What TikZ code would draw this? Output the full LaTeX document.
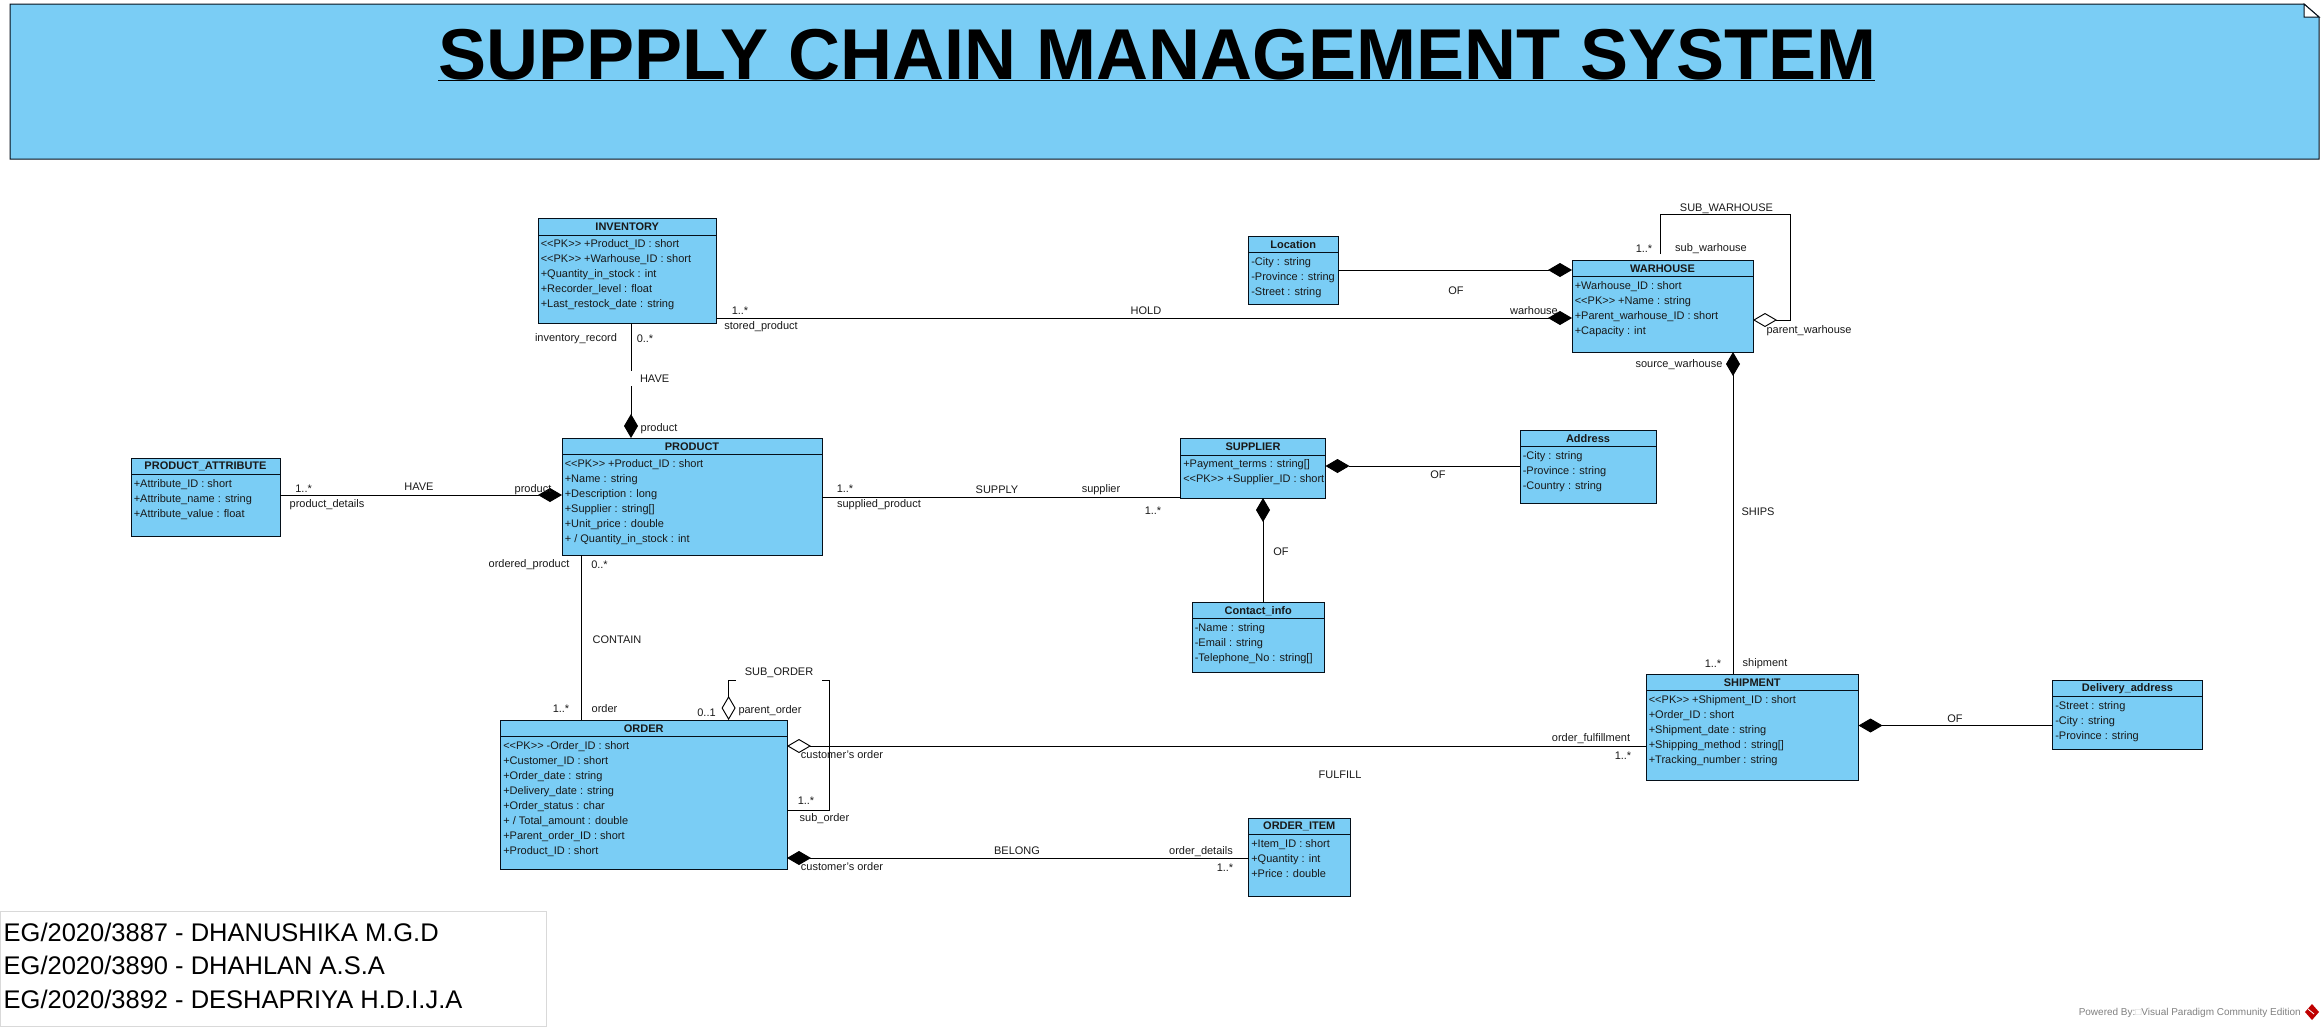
\documentclass[tikz,border=0pt]{standalone}
\usepackage{fontspec}
\setmainfont{Liberation Sans}
\usetikzlibrary{arrows.meta,calc}
\definecolor{umlblue}{RGB}{122,205,245}
\definecolor{inkline}{RGB}{5,15,25}
\tikzset{
  classbox/.style={draw=inkline,fill=umlblue,line width=1pt,outer sep=0pt,inner sep=0pt,anchor=north west},
  headrule/.style={draw=inkline,line width=1pt},
  classtitle/.style={font=\fontsize{11}{13}\selectfont\bfseries,inner sep=0pt,text=black!90},
  attr/.style={font=\fontsize{11}{13}\selectfont,inner sep=0pt,anchor=west,text height=8pt,text depth=2.5pt,text=black!90},
  lbl/.style={font=\fontsize{11}{13}\selectfont,inner sep=0pt,text=black!90,yshift=-0.7pt},
  conn/.style={draw=black,line width=0.95pt},
  comp/.style={-{Diamond[length=24pt,width=14pt,fill=black]}},
  agg/.style={-{Diamond[length=24pt,width=14pt,fill=white]}},
}
% name, x1, y1, x2, y2, header rule y, title, first row y, rows
\newcommand{\classbox}[9]{%
  \pgfmathsetmacro{\cw}{#4-#2}%
  \pgfmathsetmacro{\ch}{#5-#3}%
  \pgfmathsetmacro{\cmx}{(#2+#4)/2}%
  \pgfmathsetmacro{\cmy}{(#3+#6)/2+0.5}%
  \node[classbox,minimum width=\cw pt,minimum height=\ch pt] (#1) at (#2,#3) {};
  \draw[headrule] (#1.west |- 0,#6) -- (#1.east |- 0,#6);
  \node[classtitle] (#1t) at (\cmx,\cmy) {#7};
  \foreach \rowtext [count=\rowi] in {#9} {
    \pgfmathsetmacro{\rowy}{#8+0.5+15*(\rowi-1)}
    \node[attr] (#1r\rowi) at (#2+2.6,\rowy) {\rowtext};
  }
}
\newcommand{\lab}[4]{\node[lbl] (#1) at (#2,#3) {#4};}
\newcommand{\pk}{<{}<PK>{}>}
\begin{document}
\begin{tikzpicture}[x=1pt,y=-1pt]
\useasboundingbox (0,0) rectangle (2324,1029);

% title note
\draw[fill=umlblue,draw=inkline,line width=1pt] (10,4) -- (2304,4) -- (2319,17) -- (2319,159) -- (10,159) -- cycle;
\draw[fill=white,draw=inkline,line width=1pt] (2304,4) -- (2319,17) -- (2304,17) -- cycle;
\node[font=\fontsize{72}{80}\selectfont\bfseries,inner sep=0pt,anchor=base] (title) at (1157.5,79) {SUPPPLY CHAIN MANAGEMENT SYSTEM};
\draw[line width=1.2pt] (438,80.5) -- (1875,80.5);

% classes
\classbox{inv}{538}{218}{716.5}{323}{235}{INVENTORY}{244}{{\pk{} +Product\_ID : short},{\pk{} +Warhouse\_ID : short},{+Quantity\_in\_stock : int},{+Recorder\_level : float},{+Last\_restock\_date : string}}
\classbox{pa}{131}{458}{280}{536}{474}{PRODUCT\_ATTRIBUTE}{484}{{+Attribute\_ID : short},{+Attribute\_name : string},{+Attribute\_value : float}}
\classbox{prod}{562}{438}{822}{555}{454}{PRODUCT}{464}{{\pk{} +Product\_ID : short},{+Name : string},{+Description : long},{+Supplier : string[]},{+Unit\_price : double},{+ / Quantity\_in\_stock : int}}
\classbox{wh}{1572}{260}{1753}{352}{276}{WARHOUSE}{286}{{+Warhouse\_ID : short},{\pk{} +Name : string},{+Parent\_warhouse\_ID : short},{+Capacity : int}}
\classbox{loc}{1248.5}{236}{1338}{304}{252.5}{Location}{262}{{-City : string},{-Province : string},{-Street : string}}
\classbox{sup}{1180.5}{438}{1325.5}{498}{455}{SUPPLIER}{464}{{+Payment\_terms : string[]},{\pk{} +Supplier\_ID : short}}
\classbox{addr}{1520}{430}{1656}{503}{446}{Address}{456}{{-City : string},{-Province : string},{-Country : string}}
\classbox{ci}{1192}{602.5}{1324.5}{672}{618}{Contact\_info}{628.5}{{-Name : string},{-Email : string},{-Telephone\_No : string[]}}
\classbox{ship}{1646}{674}{1858.5}{780}{690}{SHIPMENT}{700}{{\pk{} +Shipment\_ID : short},{+Order\_ID : short},{+Shipment\_date : string},{+Shipping\_method : string[]},{+Tracking\_number : string}}
\classbox{del}{2052.5}{680}{2202.5}{749}{696}{Delivery\_address}{706}{{-Street : string},{-City : string},{-Province : string}}
\classbox{ord}{500.5}{720}{787}{869}{736}{ORDER}{746}{{\pk{} -Order\_ID : short},{+Customer\_ID : short},{+Order\_date : string},{+Delivery\_date : string},{+Order\_status : char},{+ / Total\_amount : double},{+Parent\_order\_ID : short},{+Product\_ID : short}}
\classbox{oi}{1248.5}{818}{1350}{896}{834}{ORDER\_ITEM}{844}{{+Item\_ID : short},{+Quantity : int},{+Price : double}}

% connectors
\draw[conn,comp] (pa.east |- 0,495) -- (prod.west |- 0,495);
\draw[conn,comp] (inv.south -| 631,0) -- (prod.north -| 631,0);
\draw[conn,comp] (inv.east |- 0,318) -- (wh.west |- 0,318);
\draw[conn,comp] (loc.east |- 0,270) -- (wh.west |- 0,270);
\coordinate (wls) at (1660.7,254);
\draw[conn,agg] (wls) -- (1660.7,214) -- (1790,214) -- (1790,320) -- (wh.east |- 0,320);
\draw[conn,comp] (ship.north -| 1733,0) -- (wh.south -| 1733,0);
\draw[conn] (prod.east |- 0,497) -- (sup.west |- 0,497);
\draw[conn,comp] (addr.west |- 0,466) -- (sup.east |- 0,466);
\draw[conn,comp] (ci.north -| 1263,0) -- (sup.south -| 1263,0);
\draw[conn] (prod.south -| 581,0) -- (ord.north -| 581,0);
\draw[conn,agg] (ord.east |- 0,810) -- (829,810) -- (829,680) -- (728.6,680) -- (ord.north -| 728.6,0);
\draw[conn,agg] (ship.west |- 0,746) -- (ord.east |- 0,746);
\draw[conn,comp] (oi.west |- 0,858) -- (ord.east |- 0,858);
\draw[conn,comp] (del.west |- 0,725.5) -- (ship.east |- 0,725.5);

% connector labels
\node[lbl,fill=white,minimum width=51pt,minimum height=15pt] (lHaveA) at (654.6,378) {HAVE};
\node[lbl,fill=white,minimum width=86pt,minimum height=20pt] (lSubOrder) at (779,672) {SUB\_ORDER};
\lab{l01}{303.6}{488}{1..*}
\lab{l02}{327}{504}{product\_details}
\lab{l03}{419}{486}{HAVE}
\lab{l04}{533}{488.5}{product}
\lab{l05}{740}{310}{1..*}
\lab{l06}{761}{326}{stored\_product}
\lab{l07}{576}{338}{inventory\_record}
\lab{l08}{645}{338}{0..*}
\lab{l09}{659}{428}{product}
\lab{l10}{1146}{310}{HOLD}
\lab{l11}{1534}{310}{warhouse}
\lab{l12}{1456}{290}{OF}
\lab{l13}{1644}{248}{1..*}
\lab{l14}{1711}{248}{sub\_warhouse}
\lab{l15}{1726.5}{208}{SUB\_WARHOUSE}
\lab{l16}{1809}{330}{parent\_warhouse}
\lab{l17}{1679}{364}{source\_warhouse}
\lab{l18}{1758}{511}{SHIPS}
\lab{l19}{1713}{663}{1..*}
\lab{l20}{1765}{663}{shipment}
\lab{l21}{1438}{474}{OF}
\lab{l22}{1281}{551}{OF}
\lab{l23}{879}{504}{supplied\_product}
\lab{l24}{845}{488}{1..*}
\lab{l25}{997}{489}{SUPPLY}
\lab{l26}{1101}{489}{supplier}
\lab{l27}{1153}{510}{1..*}
\lab{l28}{529}{564}{ordered\_product}
\lab{l29}{599.5}{564}{0..*}
\lab{l30}{617}{639}{CONTAIN}
\lab{l31}{561}{708}{1..*}
\lab{l32}{604.5}{708}{order}
\lab{l33}{706.5}{712}{0..1}
\lab{l34}{770}{710}{parent\_order}
\lab{l35}{842}{754}{customer's order}
\lab{l36}{806}{800}{1..*}
\lab{l37}{824.5}{818}{sub\_order}
\lab{l38}{1017}{850}{BELONG}
\lab{l39}{1201}{851}{order\_details}
\lab{l40}{1225}{867}{1..*}
\lab{l41}{842}{866}{customer's order}
\lab{l42}{1340}{774}{FULFILL}
\lab{l43}{1591}{738}{order\_fulfillment}
\lab{l44}{1623}{755}{1..*}
\lab{l45}{1955}{718}{OF}

% names box
\draw[draw=black!15,line width=1pt] (0.5,911.5) rectangle (546,1026);
\node[font=\fontsize{25.5}{30}\selectfont,inner sep=0pt,anchor=west] (n1) at (3.5,932) {EG/2020/3887 - DHANUSHIKA M.G.D};
\node[font=\fontsize{25.5}{30}\selectfont,inner sep=0pt,anchor=west] (n2) at (3.5,965.5) {EG/2020/3890 - DHAHLAN A.S.A};
\node[font=\fontsize{25.5}{30}\selectfont,inner sep=0pt,anchor=west] (n3) at (3.5,999.5) {EG/2020/3892 - DESHAPRIYA H.D.I.J.A};

% footer
\node[font=\fontsize{10}{12}\selectfont,inner sep=0pt,anchor=east,text=black!50] (pw) at (2301,1013) {Powered By:\textcolor{black!20}{□}Visual Paradigm Community Edition};
\fill[red!75!black] (2312,1004) -- (2319,1012) -- (2312,1020) -- (2305,1012) -- cycle;
\draw[white,line width=0.8pt] (2308,1009) -- (2314,1014);
\end{tikzpicture}
\end{document}
